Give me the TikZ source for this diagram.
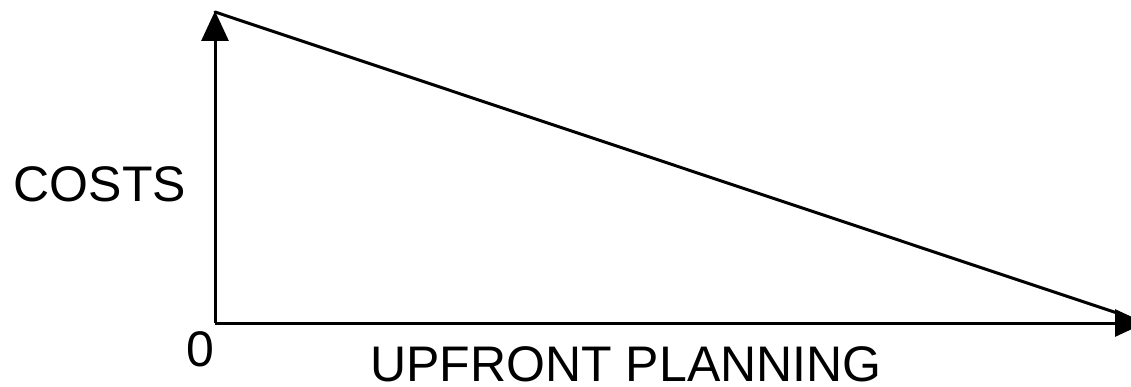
\documentclass[tikz,border=0pt]{standalone}
\usepackage{fontspec}
\setmainfont{Liberation Sans}
\usetikzlibrary{arrows.meta}
\begin{document}
\begin{tikzpicture}[x=1pt,y=-1pt,
  axis/.style={line width=3pt,-{Triangle[length=30pt,width=27pt]}},
  curve/.style={line width=3pt,line cap=round},
  lbl/.style={font=\fontsize{50}{60}\selectfont,inner sep=0pt}]
\useasboundingbox (0,0) rectangle (1131,387);
\coordinate (O) at (215,323);
\coordinate (ytip) at (215,11);
\coordinate (xtip) at (1145,323);
\coordinate (top) at (215,12);
\coordinate (end) at (1120,314);
\draw[axis] (O) -- (ytip);
\draw[axis] (O) -- (xtip);
\draw[curve] (top) -- (end);
\node[lbl] (zero) at (200,349) {0};
\node[lbl] (costs) at (100,184) {COSTS};
\node[lbl] (xlabel) at (626,364) {UPFRONT PLANNING};
\end{tikzpicture}
\end{document}
